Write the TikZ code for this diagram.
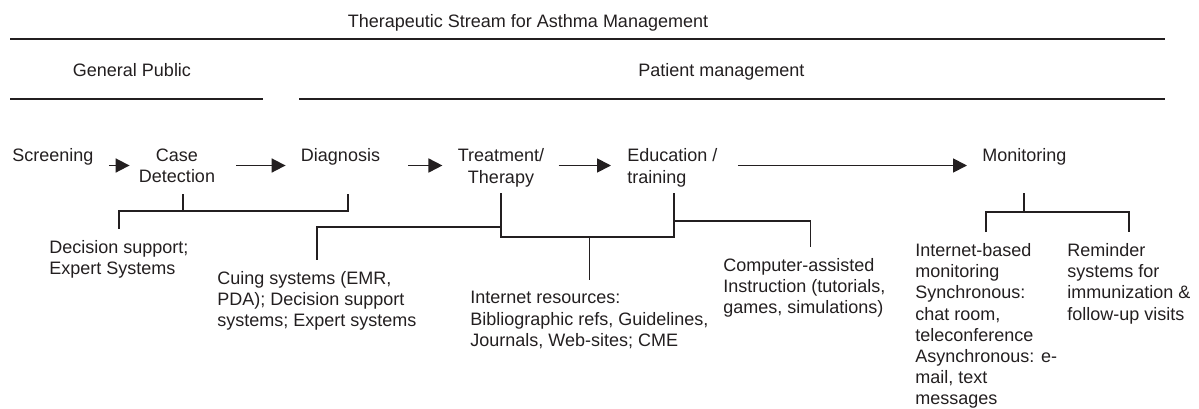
\documentclass[tikz,border=0pt]{standalone}
\usepackage{fontspec}
\setmainfont{Liberation Sans}
\usetikzlibrary{arrows.meta}
\definecolor{ink}{HTML}{231F20}

\begin{document}
\begin{tikzpicture}[x=0.5pt,y=-0.5pt,
		every node/.style={inner sep=0pt, text=ink, font=\fontsize{9}{10.6}\selectfont},
		stage/.style={align=center, anchor=north},
		info/.style={align=left, anchor=north west, outer ysep=5.75pt},
		rule/.style={draw=ink, line width=1.2pt},
		link/.style={draw=ink, line width=0.9pt},
		arr/.style={draw=ink, line width=0.9pt, -{Triangle[length=7pt,width=7pt]}}]
		\useasboundingbox (0,0) rectangle (1199,408);

		% Headings
		\node[anchor=base] (T) at (528,27) {Therapeutic Stream for Asthma Management};
		\node[anchor=base] (G) at (132,76) {General Public};
		\node[anchor=base west] (P) at (638,76) {Patient management};

		\draw[rule] (10,39) -- (1165,39);
		\draw[rule] (10,99) -- (263,99);
		\draw[rule] (299,99) -- (1165,99);

		% Stages
		\node[stage, anchor=north west] (S1) at (12,148.5) {Screening};
		\node[stage] (S2) at (177,148.5) {Case\\Detection};
		\node[stage] (S3) at (340.5,148.5) {Diagnosis};
		\node[stage] (S4) at (501,148.5) {Treatment/\\Therapy};
		\node[stage, align=left, anchor=north west] (S5) at (627,148.5) {Education /\\training};
		\node[stage, anchor=north west] (S6) at (982,148.5) {Monitoring};

		\coordinate (lv) at (0,165.5);
		\draw[arr, shorten <=7.5pt, shorten >=4.5pt] (S1.east |- lv) -- (S2.west |- lv);
		\draw[arr, shorten <=10.5pt, shorten >=7.5pt] (S2.east |- lv) -- (S3.west |- lv);
		\draw[arr, shorten <=14pt, shorten >=7.5pt] (S3.east |- lv) -- (S4.west |- lv);
		\draw[arr, shorten <=7pt, shorten >=8pt] (S4.east |- lv) -- (S5.west |- lv);
		\draw[arr, shorten <=10pt, shorten >=7.5pt] (S5.east |- lv) -- (S6.west |- lv);

		% Resources
		\node[info] (R1) at (49,229) {Decision support;\\Expert Systems};
		\node[info] (R2) at (217,260) {Cuing systems (EMR,\\PDA); Decision support\\systems; Expert systems};
		\node[info] (R3) at (470,280) {Internet resources:\\Bibliographic refs, Guidelines,\\Journals, Web-sites; CME};
		\node[info] (R4) at (723,247) {Computer-assisted\\Instruction (tutorials,\\games, simulations)};
		\node[info] (R5) at (915,232) {Internet-based\\monitoring\\Synchronous:\\chat room,\\teleconference\\Asynchronous: e-\\mail, text\\messages};
		\node[info] (R6) at (1067,232) {Reminder\\systems for\\immunization \&\\follow-up visits};

		% Brackets
		\coordinate (S2b) at (183,194);
		\coordinate (S3b) at (348,194);
		\draw[link] (S2b) -- ++(0,17);
		\draw[link] (S3b) -- ++(0,17) -| (R1.north);

		\coordinate (S4b) at (501,193);
		\coordinate (S5b) at (674,193);
		\coordinate (J4) at (501,237);
		\draw[link] (S4b) -- (J4) -| (S5b);
		\draw[link] (S4b) ++(0,34) -| (R2.north);
		\draw[link] (R3.north |- J4) -- (R3.north);
		\draw[link] (S5b) ++(0,28) -| ([xshift=3pt]R4.north);

		\coordinate (S6b) at (1024,193);
		\coordinate (J6) at (1024,212);
		\draw[link] (S6b) -- (J6);
		\draw[link] (R5.north) |- (J6) -| (R6.north);
	\end{tikzpicture}
\end{document}
